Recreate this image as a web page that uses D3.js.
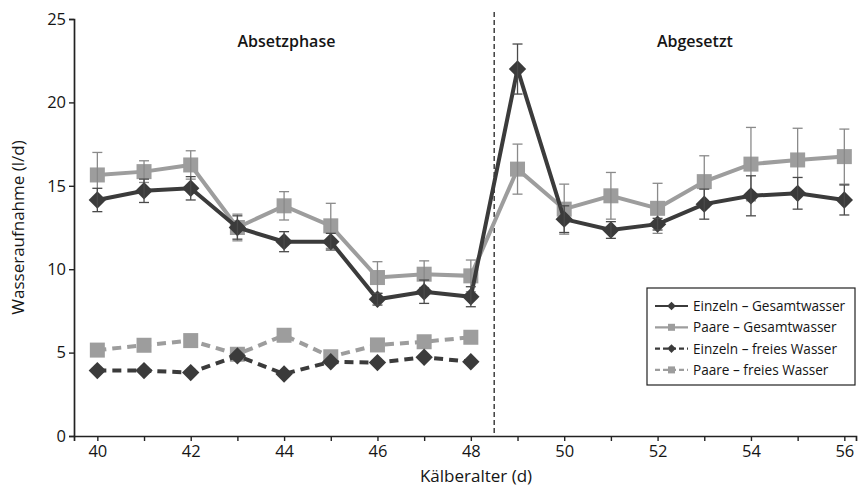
<!DOCTYPE html>
<html>
<head>
<meta charset="utf-8">
<script src="https://cdn.jsdelivr.net/npm/d3@7"></script>
<style>
  body { margin: 0; background: #fff; }
  text { font-family: "Open Sans", "Noto Sans", sans-serif; fill: #151515; }
</style>
</head>
<body>
<svg id="chart" width="861" height="489"></svg>
<script>
// Kälberalter (Tage)
const days = [40, 41, 42, 43, 44, 45, 46, 47, 48, 49, 50, 51, 52, 53, 54, 55, 56];
const freeDays = [40, 41, 42, 43, 44, 45, 46, 47, 48];

// Gesamtwasser (l/d) mit Fehlerbalken
const einzelnGesamt = [14.15, 14.7, 14.85, 12.5, 11.65, 11.65, 8.2, 8.65, 8.35, 22.0, 13.0, 12.35, 12.7, 13.9, 14.4, 14.55, 14.15];
const einzelnGesamtErr = [0.7, 0.7, 0.7, 0.7, 0.6, 0.5, 0.35, 0.7, 0.6, 1.5, 0.8, 0.5, 0.35, 0.9, 1.2, 0.95, 0.9];
const paareGesamt = [15.65, 15.85, 16.25, 12.5, 13.8, 12.6, 9.5, 9.7, 9.6, 16.0, 13.6, 14.4, 13.65, 15.25, 16.3, 16.55, 16.75];
const paareGesamtErr = [1.35, 0.65, 0.85, 0.8, 0.85, 1.35, 0.95, 0.8, 0.95, 1.5, 1.5, 1.4, 1.5, 1.55, 2.2, 1.9, 1.65];

// freies Wasser (l/d), nur Absetzphase
const einzelnFrei = [3.92, 3.92, 3.8, 4.8, 3.72, 4.45, 4.4, 4.72, 4.45];
const paareFrei = [5.15, 5.44, 5.72, 4.9, 6.04, 4.75, 5.46, 5.65, 5.92];

const yTicks = [0, 5, 10, 15, 20, 25];
const xLabelTicks = [40, 42, 44, 46, 48, 50, 52, 54, 56];
const weaningDay = 48.5;

const dark = "#3b3b3b";
const grey = "#9d9d9d";

const series = [
  { label: "Einzeln – Gesamtwasser", x: days, y: einzelnGesamt, err: einzelnGesamtErr, color: dark, dashed: false, shape: "diamond" },
  { label: "Paare – Gesamtwasser", x: days, y: paareGesamt, err: paareGesamtErr, color: grey, dashed: false, shape: "square" },
  { label: "Einzeln – freies Wasser", x: freeDays, y: einzelnFrei, err: null, color: dark, dashed: true, shape: "diamond" },
  { label: "Paare – freies Wasser", x: freeDays, y: paareFrei, err: null, color: grey, dashed: true, shape: "square" }
];

const svg = d3.select("#chart");
const margin = { left: 74, top: 19, right: 5, bottom: 53 };
const width = 861 - margin.left - margin.right;
const height = 489 - margin.top - margin.bottom;

const g = svg.append("g").attr("transform", `translate(${margin.left},${margin.top})`);

const x = d3.scaleLinear().domain([39.5, 56.25]).range([0, width]);
const y = d3.scaleLinear().domain([0, 25]).range([height, 0]);

// Axes
const xAxis = g.append("g")
  .attr("transform", `translate(0,${height})`)
  .call(d3.axisBottom(x).tickValues(d3.range(40, 57)).tickSize(5)
    .tickFormat(d => xLabelTicks.includes(d) ? d : ""));
const yAxis = g.append("g")
  .call(d3.axisLeft(y).tickValues(yTicks).tickSize(5));

[xAxis, yAxis].forEach(a => {
  a.select(".domain").attr("stroke", "#222").attr("stroke-width", 1.7);
  a.selectAll(".tick line").attr("stroke", "#222").attr("stroke-width", 1.4);
  a.selectAll(".tick text")
    .attr("font-size", "16.5px")
    .attr("font-family", "'Open Sans', 'Noto Sans', sans-serif")
    .attr("fill", "#151515");
});
xAxis.selectAll(".tick text").attr("y", 5).attr("dy", "0.95em");
yAxis.selectAll(".tick text").attr("x", -8);

// Axis titles
svg.append("text")
  .attr("x", 476)
  .attr("y", 482)
  .attr("text-anchor", "middle")
  .attr("font-size", "17px")
  .text("Kälberalter (d)");

svg.append("text")
  .attr("transform", `translate(24,${margin.top + y(12.5)}) rotate(-90)`)
  .attr("text-anchor", "middle")
  .attr("font-size", "17px")
  .text("Wasseraufnahme (l/d)");

// Phase labels
g.append("text")
  .attr("x", x(44.05))
  .attr("y", y(23.3))
  .attr("text-anchor", "middle")
  .attr("font-size", "16px")
  .attr("font-weight", "600")
  .text("Absetzphase");

g.append("text")
  .attr("x", x(52.8))
  .attr("y", y(23.3))
  .attr("text-anchor", "middle")
  .attr("font-size", "16px")
  .attr("font-weight", "600")
  .text("Abgesetzt");

// Weaning divider
g.append("line")
  .attr("x1", x(weaningDay)).attr("x2", x(weaningDay))
  .attr("y1", -7).attr("y2", height)
  .attr("stroke", "#222")
  .attr("stroke-width", 1.3)
  .attr("stroke-dasharray", "5,3");

const line = d3.line().x(d => x(d[0])).y(d => y(d[1]));

function drawMarker(sel, shape, color, size) {
  if (shape === "square") {
    sel.append("rect")
      .attr("x", -size / 2).attr("y", -size / 2)
      .attr("width", size).attr("height", size)
      .attr("fill", color);
  } else {
    const s = size * 0.62;
    sel.append("path")
      .attr("d", `M0,${-s} L${s},0 L0,${s} L${-s},0 Z`)
      .attr("fill", color);
  }
}

// Draw series: grey first so dark sits on top
const drawOrder = [series[3], series[2], series[1], series[0]];

drawOrder.forEach(s => {
  const pts = s.x.map((d, i) => [d, s.y[i]]);
  const sg = g.append("g");

  sg.append("path")
    .datum(pts)
    .attr("d", line)
    .attr("fill", "none")
    .attr("stroke", s.color)
    .attr("stroke-width", 4)
    .attr("stroke-dasharray", s.dashed ? "9,6" : null);

  sg.selectAll(".marker")
    .data(pts)
    .enter()
    .append("g")
    .attr("transform", d => `translate(${x(d[0])},${y(d[1])})`)
    .each(function() { drawMarker(d3.select(this), s.shape, s.color, s.shape === "square" ? 15 : 14); });

  if (s.err) {
    const eb = sg.selectAll(".err")
      .data(pts.map((p, i) => ({ x: p[0], y: p[1], e: s.err[i] })))
      .enter()
      .append("g")
      .attr("stroke", s.color === dark ? "#4a4a4a" : "#8a8a8a")
      .attr("stroke-width", 1.3);
    eb.append("line")
      .attr("x1", d => x(d.x)).attr("x2", d => x(d.x))
      .attr("y1", d => y(d.y - d.e)).attr("y2", d => y(d.y + d.e));
    eb.append("line")
      .attr("x1", d => x(d.x) - 5).attr("x2", d => x(d.x) + 5)
      .attr("y1", d => y(d.y + d.e)).attr("y2", d => y(d.y + d.e));
    eb.append("line")
      .attr("x1", d => x(d.x) - 5).attr("x2", d => x(d.x) + 5)
      .attr("y1", d => y(d.y - d.e)).attr("y2", d => y(d.y - d.e));
  }
});

// Legend
const legend = svg.append("g").attr("transform", "translate(647,288)");
legend.append("rect")
  .attr("width", 208).attr("height", 97)
  .attr("fill", "#fff")
  .attr("stroke", "#222")
  .attr("stroke-width", 1.2);

const legendItems = legend.selectAll(".item")
  .data(series)
  .enter()
  .append("g")
  .attr("transform", (d, i) => `translate(0,${18 + i * 21.3})`);

legendItems.append("line")
  .attr("x1", 8).attr("x2", 41)
  .attr("stroke", d => d.color)
  .attr("stroke-width", 2.2)
  .attr("stroke-dasharray", d => d.dashed ? "5,3" : null);

legendItems.append("g")
  .attr("transform", "translate(24.5,0)")
  .each(function(d) { drawMarker(d3.select(this), d.shape, d.color, 7); });

legendItems.append("text")
  .attr("x", 46)
  .attr("y", 5)
  .attr("font-size", "13.6px")
  .text(d => d.label);
</script>
</body>
</html>
